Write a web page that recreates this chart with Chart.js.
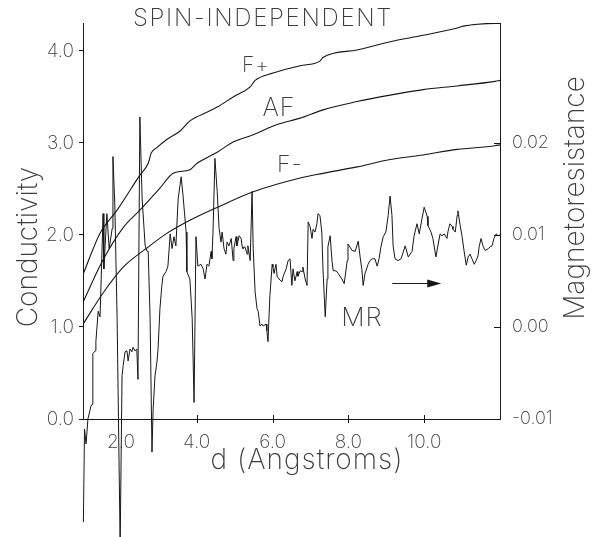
<!DOCTYPE html>
<html>
<head>
<meta charset="utf-8">
<script src="https://cdn.jsdelivr.net/npm/chart.js@4.4.0/dist/chart.umd.min.js"></script>
<style>
  html, body { margin: 0; padding: 0; background: #fff; }
  canvas { display: block; }
</style>
</head>
<body>
<canvas id="grafico" width="596" height="537"></canvas>
<script>
"use strict";

// Conductivity curves (d in Angstroms)
const fPlusD = [1.00, 1.45, 1.90, 2.50, 2.72, 2.80, 2.95, 3.22, 3.56, 3.82, 4.09, 4.54, 4.96, 5.41, 5.54, 6.01, 6.73, 7.25, 7.33, 8.23, 9.10, 9.97, 10.87, 11.03, 11.87, 12.00];
const fPlusV = [1.57, 2.02, 2.27, 2.65, 2.78, 2.89, 2.95, 3.04, 3.13, 3.24, 3.30, 3.39, 3.50, 3.61, 3.68, 3.76, 3.84, 3.89, 3.93, 4.01, 4.10, 4.17, 4.25, 4.27, 4.30, 4.30];

const afD = [1.00, 1.53, 2.06, 2.50, 3.03, 3.38, 3.82, 4.01, 4.54, 4.96, 5.49, 6.12, 6.73, 7.33, 8.23, 9.10, 9.97, 10.87, 11.87, 12.00];
const afV = [1.27, 1.73, 2.08, 2.27, 2.51, 2.67, 2.71, 2.78, 2.90, 3.01, 3.09, 3.20, 3.27, 3.36, 3.45, 3.52, 3.58, 3.62, 3.67, 3.68];

const fMinusD = [1.00, 1.53, 2.06, 2.69, 3.22, 3.82, 4.54, 5.49, 6.73, 7.33, 8.23, 9.10, 9.97, 10.87, 11.87, 12.00];
const fMinusV = [1.03, 1.37, 1.65, 1.86, 2.02, 2.16, 2.30, 2.47, 2.62, 2.67, 2.74, 2.82, 2.87, 2.93, 2.97, 2.98];

// Magnetoresistance (right axis)
const mrD = [
  1.01, 1.04, 1.08, 1.13, 1.21, 1.24, 1.26, 1.32, 1.34, 1.40, 1.45, 1.53, 1.55, 1.63, 1.69, 1.77, 1.79, 1.84, 1.90, 1.98,
  2.03, 2.06, 2.11, 2.16, 2.19, 2.24, 2.29, 2.32, 2.37, 2.42, 2.45, 2.50, 2.56, 2.64, 2.69, 2.72, 2.77, 2.82, 2.85, 2.90,
  2.95, 2.98, 3.03, 3.08, 3.11, 3.19, 3.24, 3.30, 3.35, 3.40, 3.45, 3.51, 3.59, 3.64, 3.72, 3.74, 3.82, 3.88, 3.93, 3.98,
  4.03, 4.11, 4.17, 4.22, 4.27, 4.32, 4.38, 4.40, 4.43, 4.48, 4.54, 4.59, 4.64, 4.67, 4.72, 4.77, 4.80, 4.85, 4.91, 4.96,
  4.98, 5.04, 5.06, 5.12, 5.17, 5.20, 5.22, 5.27, 5.33, 5.35, 5.41, 5.46, 5.49, 5.54, 5.59, 5.62, 5.67, 5.72, 5.75, 5.83,
  5.85, 5.88, 5.93, 5.99, 6.01, 6.04, 6.09, 6.12, 6.17, 6.25, 6.28, 6.36, 6.41, 6.46, 6.51, 6.54, 6.59, 6.65, 6.67, 6.73,
  6.78, 6.80, 6.86, 6.91, 6.94, 6.99, 7.04, 7.07, 7.12, 7.17, 7.20, 7.25, 7.30, 7.33, 7.39, 7.44, 7.46, 7.52, 7.57, 7.60,
  7.65, 7.70, 7.73, 7.83, 7.89, 7.97, 7.99, 8.10, 8.18, 8.26, 8.31, 8.36, 8.39, 8.44, 8.52, 8.57, 8.63, 8.70, 8.76, 8.81,
  8.86, 8.92, 8.99, 9.05, 9.10, 9.15, 9.18, 9.23, 9.31, 9.39, 9.50, 9.58, 9.68, 9.73, 9.81, 9.87, 9.94, 10.00, 10.08, 10.10,
  10.18, 10.23, 10.31, 10.37, 10.42, 10.47, 10.53, 10.60, 10.63, 10.68, 10.74, 10.76, 10.82, 10.87, 10.89, 10.95, 11.00, 11.05, 11.11, 11.16,
  11.21, 11.26, 11.32, 11.37, 11.42, 11.45, 11.50, 11.55, 11.61, 11.69, 11.74, 11.79, 11.84, 11.90, 11.95, 12.00
];
const mrV = [
  -0.0212, -0.0111, -0.0127, -0.0100, -0.0086, -0.0084, -0.0029, -0.0026, -0.0016, 0.0017, 0.0011, 0.0123, 0.0063, 0.0123, 0.0085, 0.0107, 0.0185, 0.0132, 0.0009, -0.0236,
  -0.0053, -0.0042, -0.0027, -0.0026, -0.0037, -0.0024, -0.0027, -0.0022, -0.0026, -0.0024, -0.0057, 0.0228, 0.0139, 0.0088, 0.0082, 0.0082, 0.0009, -0.0136, -0.0089, -0.0053,
  -0.0038, -0.0024, 0.0020, 0.0045, 0.0055, 0.0060, 0.0066, 0.0101, 0.0085, 0.0098, 0.0088, 0.0139, 0.0163, 0.0142, 0.0103, 0.0060, 0.0052, 0.0009, -0.0082, 0.0098,
  0.0066, 0.0068, 0.0063, 0.0052, 0.0068, 0.0066, 0.0082, 0.0074, 0.0103, 0.0183, 0.0147, 0.0107, 0.0092, 0.0103, 0.0085, 0.0079, 0.0092, 0.0088, 0.0096, 0.0072,
  0.0085, 0.0098, 0.0088, 0.0099, 0.0096, 0.0087, 0.0085, 0.0087, 0.0079, 0.0088, 0.0072, 0.0147, 0.0085, 0.0038, 0.0020, 0.0017, 0.0001, 0.0003, 0.0001, 0.0003,
  -0.0004, -0.0016, 0.0034, 0.0068, 0.0065, 0.0058, 0.0068, 0.0055, 0.0052, 0.0049, 0.0055, 0.0063, 0.0072, 0.0074, 0.0045, 0.0063, 0.0050, 0.0060, 0.0055, 0.0061,
  0.0060, 0.0065, 0.0052, 0.0045, 0.0114, 0.0109, 0.0096, 0.0106, 0.0103, 0.0112, 0.0123, 0.0121, 0.0103, 0.0063, 0.0011, 0.0052, 0.0087, 0.0099, 0.0071, 0.0061,
  0.0061, 0.0060, 0.0058, 0.0052, 0.0047, 0.0072, 0.0090, 0.0083, 0.0082, 0.0093, 0.0076, 0.0061, 0.0045, 0.0058, 0.0068, 0.0072, 0.0074, 0.0074, 0.0066, 0.0074,
  0.0087, 0.0098, 0.0103, 0.0121, 0.0142, 0.0121, 0.0088, 0.0074, 0.0072, 0.0074, 0.0088, 0.0076, 0.0082, 0.0098, 0.0112, 0.0101, 0.0117, 0.0130, 0.0120, 0.0110,
  0.0103, 0.0096, 0.0076, 0.0090, 0.0101, 0.0099, 0.0101, 0.0096, 0.0104, 0.0112, 0.0109, 0.0106, 0.0103, 0.0121, 0.0126, 0.0110, 0.0098, 0.0083, 0.0067, 0.0076,
  0.0079, 0.0074, 0.0068, 0.0072, 0.0077, 0.0087, 0.0096, 0.0088, 0.0083, 0.0085, 0.0087, 0.0088, 0.0096, 0.0101, 0.0099, 0.0100
];

// Axis ranges and tick values
const dRange = [1, 12];
const dTicks = [2, 4, 6, 8, 10];
const condRange = [0, 4.304];
const condTicks = [0, 1, 2, 3, 4];
const mrRange = [-0.01, 0.033];
const mrTicks = [-0.01, 0, 0.01, 0.02];

// Curve names and where they are written (d, conductivity)
const curveLabels = [
  { text: "F+", d: 5.56, v: 3.84, size: 21 },
  { text: "AF", d: 6.17, v: 3.37, size: 25 },
  { text: "F-", d: 6.46, v: 2.76, size: 23 },
  { text: "MR", d: 8.36, v: 1.10, size: 26 }
];
// MR arrow pointing to the right-hand axis
const arrowD = [9.16, 10.45];
const arrowMR = 0.0048;

const INK = "#161616";
const TEXT = "#3c3c3c";
const FAMILY = "Inter, Lato, 'DejaVu Sans', sans-serif";
const font = (size) => `200 ${size}px ${FAMILY}`;

const toPoints = (xs, ys) => xs.map((d, i) => ({ x: d, y: ys[i] }));

const keepTicks = (values) => (scale) => {
  scale.ticks = values.map(v => ({ value: v }));
};

const drawText = (ctx, text, x, y, spacing) => {
  ctx.letterSpacing = spacing || "0px";
  ctx.fillText(text, x, y);
  ctx.letterSpacing = "0px";
};

const overlay = {
  id: "overlay",
  afterDraw(chart) {
    const { ctx, chartArea, scales } = chart;
    const { x, y, y2 } = scales;
    ctx.save();
    ctx.strokeStyle = INK;
    ctx.lineWidth = 1;

    // tick marks crossing the d axis
    ctx.beginPath();
    x.ticks.forEach(t => {
      const px = Math.round(x.getPixelForValue(t.value)) + 0.5;
      ctx.moveTo(px, chartArea.bottom - 4);
      ctx.lineTo(px, chartArea.bottom + 4);
    });
    // inward ticks on the magnetoresistance axis
    y2.ticks.forEach(t => {
      const py = Math.round(y2.getPixelForValue(t.value)) + 0.5;
      ctx.moveTo(chartArea.right - 6, py);
      ctx.lineTo(chartArea.right, py);
    });
    ctx.stroke();

    // arrow
    const ax0 = x.getPixelForValue(arrowD[0]);
    const ax1 = x.getPixelForValue(arrowD[1]);
    const ay = Math.round(y2.getPixelForValue(arrowMR)) + 0.5;
    ctx.beginPath();
    ctx.moveTo(ax0, ay);
    ctx.lineTo(ax1 - 10, ay);
    ctx.stroke();
    ctx.fillStyle = INK;
    ctx.beginPath();
    ctx.moveTo(ax1, ay);
    ctx.lineTo(ax1 - 14, ay - 4);
    ctx.lineTo(ax1 - 14, ay + 4);
    ctx.closePath();
    ctx.fill();

    // texts
    ctx.fillStyle = TEXT;
    ctx.textAlign = "center";
    ctx.textBaseline = "middle";
    ctx.font = font(24);
    drawText(ctx, "SPIN-INDEPENDENT", 263, 19, "1.7px");

    curveLabels.forEach(l => {
      ctx.font = font(l.size);
      drawText(ctx, l.text, x.getPixelForValue(l.d), y.getPixelForValue(l.v), "1px");
    });

    ctx.font = font(28);
    drawText(ctx, "d (Angstroms)", 307, 461, "1px");

    ctx.save();
    ctx.translate(29, 247);
    ctx.rotate(-Math.PI / 2);
    ctx.fillText("Conductivity", 0, 0);
    ctx.restore();

    ctx.save();
    ctx.translate(576, 198);
    ctx.rotate(-Math.PI / 2);
    ctx.fillText("Magnetoresistance", 0, 0);
    ctx.restore();

    ctx.restore();
  }
};

const lineSet = (label, xs, ys, axis) => ({
  label,
  data: toPoints(xs, ys),
  yAxisID: axis,
  borderColor: INK,
  borderWidth: 1.1,
  pointRadius: 0,
  fill: false,
  tension: 0
});

const mrSet = lineSet("MR", mrD, mrV, "y2");
mrSet.clip = false;
mrSet.borderWidth = 1;

const tickFont = { family: FAMILY, size: 19, weight: 200 };

const ctx = document.getElementById("grafico").getContext("2d");
new Chart(ctx, {
  type: "line",
  data: {
    datasets: [
      Object.assign(lineSet("F+", fPlusD, fPlusV, "y"), { cubicInterpolationMode: "monotone" }),
      Object.assign(lineSet("AF", afD, afV, "y"), { cubicInterpolationMode: "monotone" }),
      Object.assign(lineSet("F-", fMinusD, fMinusV, "y"), { cubicInterpolationMode: "monotone" }),
      mrSet
    ]
  },
  options: {
    responsive: false,
    animation: false,
    devicePixelRatio: 1,
    layout: { padding: { top: 23, left: 0, right: 0, bottom: 0 } },
    plugins: { legend: { display: false }, tooltip: { enabled: false } },
    scales: {
      x: {
        type: "linear",
        min: dRange[0],
        max: dRange[1],
        afterBuildTicks: keepTicks(dTicks),
        afterFit: (s) => { s.height = 118; },
        border: { color: INK, width: 1 },
        grid: { drawOnChartArea: false, drawTicks: false },
        ticks: {
          padding: 12,
          color: TEXT,
          font: tickFont,
          callback: (v) => Number(v).toFixed(1)
        }
      },
      y: {
        position: "left",
        min: condRange[0],
        max: condRange[1],
        afterBuildTicks: keepTicks(condTicks),
        afterFit: (s) => { s.width = 83; },
        border: { color: INK, width: 1 },
        grid: { drawOnChartArea: false, drawTicks: true, tickLength: 4, color: INK },
        ticks: {
          padding: 5,
          color: TEXT,
          font: tickFont,
          callback: (v) => Number(v).toFixed(1)
        }
      },
      y2: {
        position: "right",
        min: mrRange[0],
        max: mrRange[1],
        afterBuildTicks: keepTicks(mrTicks),
        afterFit: (s) => { s.width = 96; },
        border: { color: INK, width: 1 },
        grid: { drawOnChartArea: false, drawTicks: false },
        ticks: {
          padding: 12,
          color: TEXT,
          font: { family: FAMILY, size: 18, weight: 200 },
          callback: (v) => (Math.abs(v) < 1e-9 ? 0 : Number(v)).toFixed(2)
        }
      }
    }
  },
  plugins: [overlay]
});
</script>
</body>
</html>
